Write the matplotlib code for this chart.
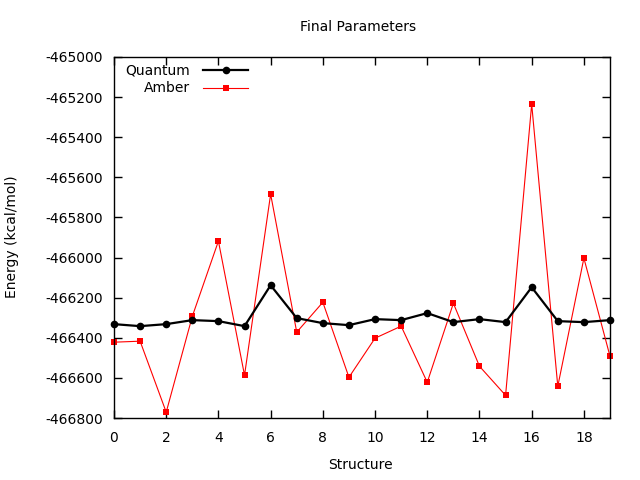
import matplotlib
matplotlib.use("Agg")
import matplotlib.pyplot as plt
from matplotlib.lines import Line2D

plt.rcParams['font.family'] = ['DejaVu Sans']
plt.rcParams['font.size'] = 10

structure = list(range(20))
quantum = [-466332, -466342, -466332, -466312, -466317, -466342, -466138, -466302,
           -466327, -466337, -466307, -466312, -466277, -466322, -466307, -466322,
           -466148, -466317, -466322, -466312]
amber = [-466422, -466417, -466771, -466293, -465918, -466587, -465684, -466372,
         -466223, -466597, -466402, -466342, -466622, -466228, -466542, -466687,
         -465235, -466642, -466003, -466492]
yticks = list(range(-466800, -464999, 200))
xticks = list(range(0, 19, 2))

fig = plt.figure(figsize=(6.4, 4.8), dpi=100)
ax = fig.add_axes([114 / 640, 1 - 418 / 480, 496 / 640, 361 / 480])

ax.plot(structure, quantum, color='black', lw=1.6, marker='o', ms=5.5, mew=0, zorder=3, clip_on=False)
ax.plot(structure, amber, color='red', lw=0.8, marker='s', ms=4, mew=0, zorder=2, clip_on=False)

ax.set_xlim(0, 19)
ax.set_ylim(-466800, -465000)
ax.set_xticks(xticks)
ax.set_yticks(yticks)
ax.set_yticklabels([str(v) for v in yticks])
ax.tick_params(direction='in', length=6, width=1, top=True, right=True, labelsize=10)
ax.tick_params(axis='y', pad=8)
ax.tick_params(axis='x', pad=9)
for s in ax.spines.values():
    s.set_linewidth(1)

fig.text(358 / 640, 1 - 27 / 480, 'Final Parameters', ha='center', va='center', fontsize=10)
fig.text(360 / 640, 1 - 465 / 480, 'Structure', ha='center', va='center', fontsize=10)
fig.text(12 / 640, 1 - 237 / 480, 'Energy (kcal/mol)', ha='center', va='center', rotation=90, fontsize=10)

# legend (gnuplot style: right-aligned text, sample to the right)
tx = (190 - 114) / 496
x0 = (203 - 114) / 496
x1 = (248 - 114) / 496
xm = (226 - 114) / 496
for label, col, lw, mk, ms, ypx in [('Quantum', 'black', 1.6, 'o', 5.5, 70), ('Amber', 'red', 0.8, 's', 4, 88)]:
    yy = (418 - ypx) / 361
    ax.text(tx, yy, label, transform=ax.transAxes, ha='right', va='center', fontsize=10)
    ax.add_line(Line2D([x0, x1], [yy, yy], transform=ax.transAxes, color=col, lw=lw))
    ax.add_line(Line2D([xm], [yy], transform=ax.transAxes, color=col, marker=mk, ms=ms, mew=0))

fig.savefig('out.png', dpi=100)
